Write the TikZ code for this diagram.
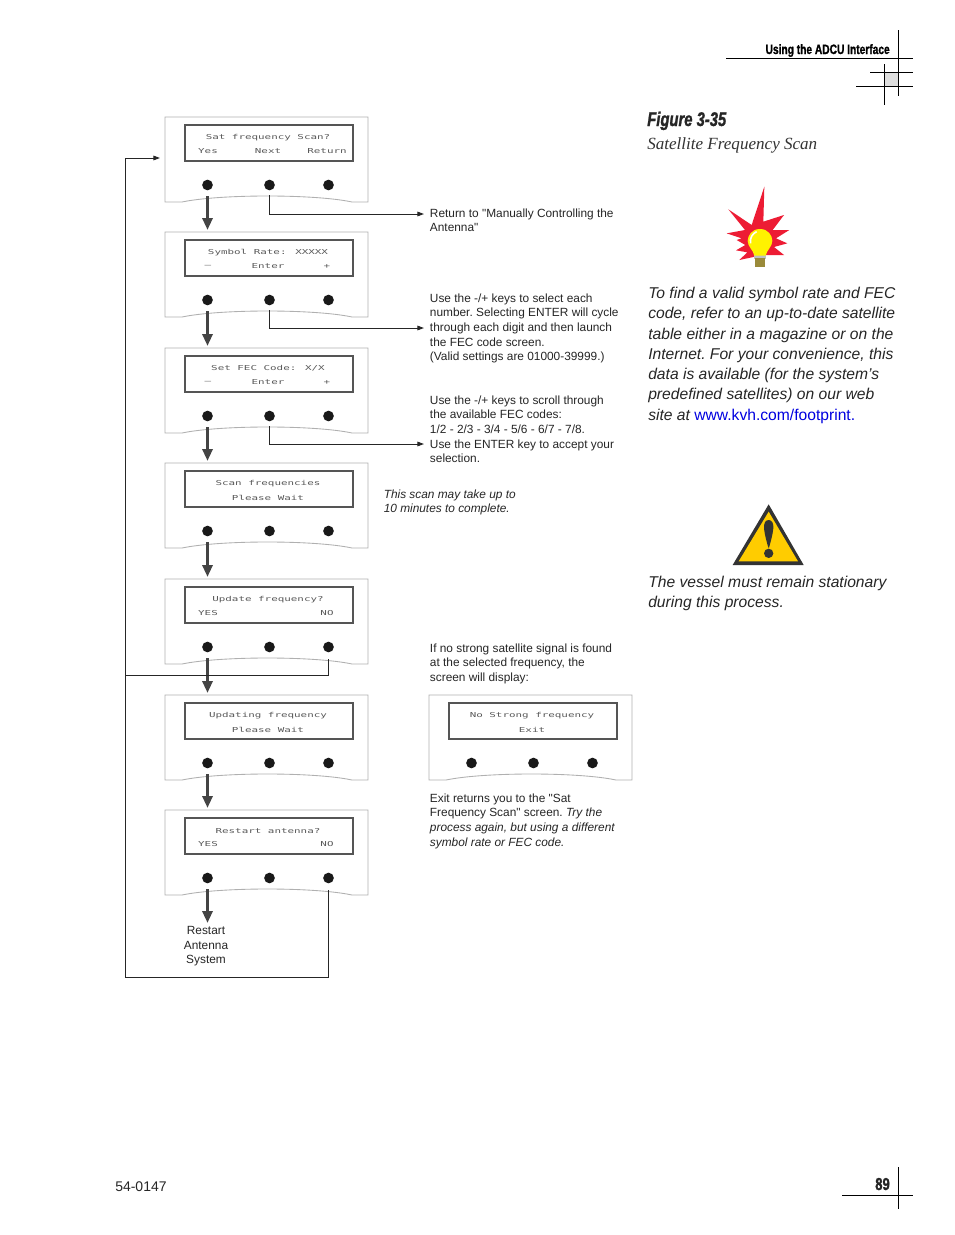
\documentclass[tikz,border=0pt]{standalone}
\usepackage{fontspec}
\setmainfont[Ligatures=TeXOff]{Liberation Sans}
\newfontfamily\lcdfont[FakeStretch=1.6]{DejaVu Sans Mono}
\newfontfamily\headfont[FakeStretch=0.75,BoldFeatures={FakeBold=1.2},BoldItalicFeatures={FakeBold=1.2}]{Liberation Sans}
\newfontfamily\capfont{Liberation Serif}
\usetikzlibrary{arrows.meta}
\definecolor{panelgrey}{HTML}{B0B0B0}
\definecolor{lcdgrey}{HTML}{555555}
\definecolor{arrowgrey}{HTML}{444444}
\definecolor{linkblue}{HTML}{0000E0}
\definecolor{starred}{HTML}{ED1C34}
\definecolor{bulbyellow}{HTML}{FFF200}
\definecolor{warnyellow}{HTML}{FFCC00}
\definecolor{warndark}{HTML}{333333}
\definecolor{basegold}{HTML}{9A8A3A}
\tikzset{
  paneloutline/.style={draw=panelgrey,line width=.65pt,fill=white},
  lcdbox/.style={draw=lcdgrey,line width=1.6pt,fill=white,minimum width=126pt,minimum height=27pt,inner sep=0pt,outer sep=0pt},
  lcdtext/.style={inner sep=0pt,text=black!65,font=\lcdfont\fontsize{5.1}{6}\selectfont},
  knob/.style={circle,fill=black!90,minimum size=8pt,inner sep=0pt},
  flowarrow/.style={draw=arrowgrey,line width=2.5pt,-{Triangle[length=9pt,width=7.5pt]}},
  thinarrow/.style={draw=black!85,line width=.75pt,-{Triangle[length=5pt,width=3.5pt]}},
  thinline/.style={draw=black!85,line width=.75pt},
  pagerule/.style={draw=black,line width=.75pt},
  note/.style={inner sep=0pt,anchor=north west,align=left,text=black!85,font=\frenchspacing\fontsize{8.9}{10.95}\selectfont},
  side/.style={inner sep=0pt,anchor=north west,align=left,text=black!85,font=\frenchspacing\itshape\fontsize{11.73}{15.2}\selectfont},
}
% name, left x, top y, line 1, item left, item mid, item right
\newcommand{\lcdpanel}[7]{%
  \path[paneloutline] (#2,#3) -- (#2+203,#3) -- (#2+203,#3+85) -- (#2+187,#3+85)
     .. controls (#2+150,#3+77) and (#2+55,#3+77) .. (#2+17,#3+85) -- (#2,#3+85) -- cycle;
  \node[lcdbox] (#1d) at (#2+104,#3+26) {};
  \node[lcdtext] (#1t) at (#2+103,#3+20.7) {#4};
  \node[lcdtext] (#1l) at (#2+43,#3+34.5) {#5};
  \node[lcdtext] (#1m) at (#2+103,#3+34.5) {#6};
  \node[lcdtext] (#1r) at (#2+162,#3+34.5) {#7};
  \node[knob] (#1a) at (#2+42.5,#3+68) {};
  \node[knob] (#1b) at (#2+104.5,#3+68) {};
  \node[knob] (#1c) at (#2+163.5,#3+68) {};
  \coordinate (#1yes) at (#2+42.5,#3+79);
  \coordinate (#1next) at (#2+104,#3+78);
  \coordinate (#1no) at (#2+163,#3+80);
  \coordinate (#1in) at (#2+42.5,#3-2);
  \coordinate (#1side) at (#2-5,#3+41);
}
\begin{document}
\begin{tikzpicture}[x=.75pt,y=-.75pt]
\useasboundingbox (0,0) rectangle (954,1235);
\fill[white] (0,0) rectangle (954,1235);

% page furniture
\fill[black!13] (884,72) rectangle (898,86);
\draw[pagerule] (726,58) -- (913,58);
\draw[pagerule] (898,30) -- (898,96);
\draw[pagerule] (870,72) -- (913,72);
\draw[pagerule] (856,86) -- (913,86);
\draw[pagerule] (884,64) -- (884,105);
\draw[pagerule] (842,1195) -- (913,1195);
\draw[pagerule] (898,1167) -- (898,1209);
\node[inner sep=0pt,anchor=base east,font=\headfont\bfseries\fontsize{10.2}{12}\selectfont] (head) at (890,54) {Using the ADCU Interface};
\node[inner sep=0pt,anchor=base east,font=\headfont\bfseries\fontsize{13}{15}\selectfont,text=black!85] (pageno) at (890,1190) {89};
\node[inner sep=0pt,anchor=base west,font=\fontsize{10.5}{12}\selectfont,text=black!85] (docno) at (115,1191) {54-0147};

% panels
\lcdpanel{p1}{165}{117}{Sat frequency Scan?}{Yes}{Next}{Return}
\lcdpanel{p2}{165}{232}{Symbol Rate: XXXXX}{–}{Enter}{+}
\lcdpanel{p3}{165}{348}{Set FEC Code: X/X}{–}{Enter}{+}
\lcdpanel{p4}{165}{463}{Scan frequencies}{}{Please Wait}{}
\lcdpanel{p5}{165}{579}{Update frequency?}{YES}{}{NO}
\lcdpanel{p6}{165}{695}{Updating frequency}{}{Please Wait}{}
\lcdpanel{p7}{165}{810}{Restart antenna?}{YES}{}{NO}
\lcdpanel{p8}{429}{695}{No Strong frequency}{}{Exit}{}

% flow arrows
\draw[flowarrow] (p1yes) -- (p2in);
\draw[flowarrow] (p2yes) -- (p3in);
\draw[flowarrow] (p3yes) -- (p4in);
\draw[flowarrow] (p4yes) -- (p5in);
\draw[flowarrow] (p5yes) -- (p6in);
\draw[flowarrow] (p6yes) -- (p7in);

% notes
\node[note] (n1) at (429.7,208.5) {Return to "Manually Controlling the\\Antenna"};
\node[note] (n2) at (429.7,293.5) {Use the -/+ keys to select each\\number. Selecting ENTER will cycle\\through each digit and then launch\\the FEC code screen.\\(Valid settings are 01000-39999.)};
\node[note] (n3) at (429.7,395.5) {Use the -/+ keys to scroll through\\the available FEC codes:\\1/2 - 2/3 - 3/4 - 5/6 - 6/7 - 7/8.\\Use the ENTER key to accept your\\selection.};
\node[note,font=\frenchspacing\itshape\fontsize{8.9}{10.95}\selectfont] (n4) at (383.5,489.5) {This scan may take up to\\10 minutes to complete.};
\node[note] (n5) at (429.7,643.5) {If no strong satellite signal is found\\at the selected frequency, the\\screen will display:};
\node[note] (n6) at (429.7,793.5) {Exit returns you to the "Sat\\Frequency Scan" screen. \textit{Try the}\\\textit{process again, but using a different}\\\textit{symbol rate or FEC code.}};
\node[note,align=center,anchor=north] (restart) at (206,926) {Restart\\Antenna\\System};

% thin connectors
\coordinate (e1) at (424,214);
\coordinate (e2) at (424,328);
\coordinate (e3) at (424,444);
\coordinate (restartin) at (207.5,923);
\draw[thinarrow] (p1next) |- (e1);
\draw[thinarrow] (p2next) |- (e2);
\draw[thinarrow] (p3next) |- (e3);
\draw[flowarrow] (p7yes) -- (restartin);
\coordinate (loopa) at (125,977);
\coordinate (loopb) at (125,158);
\coordinate (loopj) at (125,675);
\draw[thinarrow] (p7no) |- (loopa) -- (loopb) -- (p1side);
\draw[thinline] (p5no) |- (loopj);

% caption
\node[inner sep=0pt,anchor=base west,font=\headfont\bfseries\itshape\fontsize{14.8}{16}\selectfont,text=black!85] (figno) at (647,126) {Figure 3-35};
\node[inner sep=0pt,anchor=base west,font=\capfont\itshape\fontsize{12.8}{15}\selectfont,text=black!80] (figcap) at (647,149) {Satellite Frequency Scan};
\node[side] (s1) at (648,287) {To find a valid symbol rate and FEC\\code, refer to an up-to-date satellite\\table either in a magazine or on the\\Internet. For your convenience, this\\data is available (for the system’s\\predefined satellites) on our web\\site at \textcolor{linkblue}{\upshape www.kvh.com/footprint.}};
\node[side] (s2) at (648,575.5) {The vessel must remain stationary\\during this process.};

% light bulb
\begin{scope}[shift={(710,175)},scale=1/3]
\fill[starred] (163,35) -- (160,140) -- (222,120) -- (188,165) -- (238,165) -- (198,190) -- (232,205) -- (192,216) -- (222,240) -- (170,240)
  -- (135,245) -- (88,255) -- (112,232) -- (78,226) -- (106,210) -- (80,195) -- (95,190) -- (50,175) -- (105,165) -- (55,103) -- (125,150) -- cycle;
\fill[black!25] (133,238) rectangle (167,252);
\fill[basegold] (135,250) rectangle (165,276);
\fill[bulbyellow] (150,162) .. controls (125,162) and (113,182) .. (113,198) .. controls (113,215) and (130,225) .. (133,242) -- (167,242) .. controls (170,225) and (187,215) .. (187,198) .. controls (187,182) and (175,162) .. (150,162) -- cycle;
\draw[white,line width=1.2pt] (122,205) .. controls (118,190) and (128,175) .. (140,170);
\end{scope}

% warning triangle
\begin{scope}[shift={(720,495)},scale=1/3]
\fill[warndark] (146,28) -- (251,210) -- (38,210) -- cycle;
\fill[warnyellow] (146,50) -- (234,199) -- (56,199) -- cycle;
\fill[warndark] (146,75) .. controls (136,75) and (131,85) .. (132,100) .. controls (134,120) and (140,140) .. (145,158) -- (147,158) .. controls (152,140) and (158,120) .. (160,100) .. controls (161,85) and (156,75) .. (146,75) -- cycle;
\fill[warndark] (146,175) circle[radius=14];
\end{scope}
\end{tikzpicture}
\end{document}
